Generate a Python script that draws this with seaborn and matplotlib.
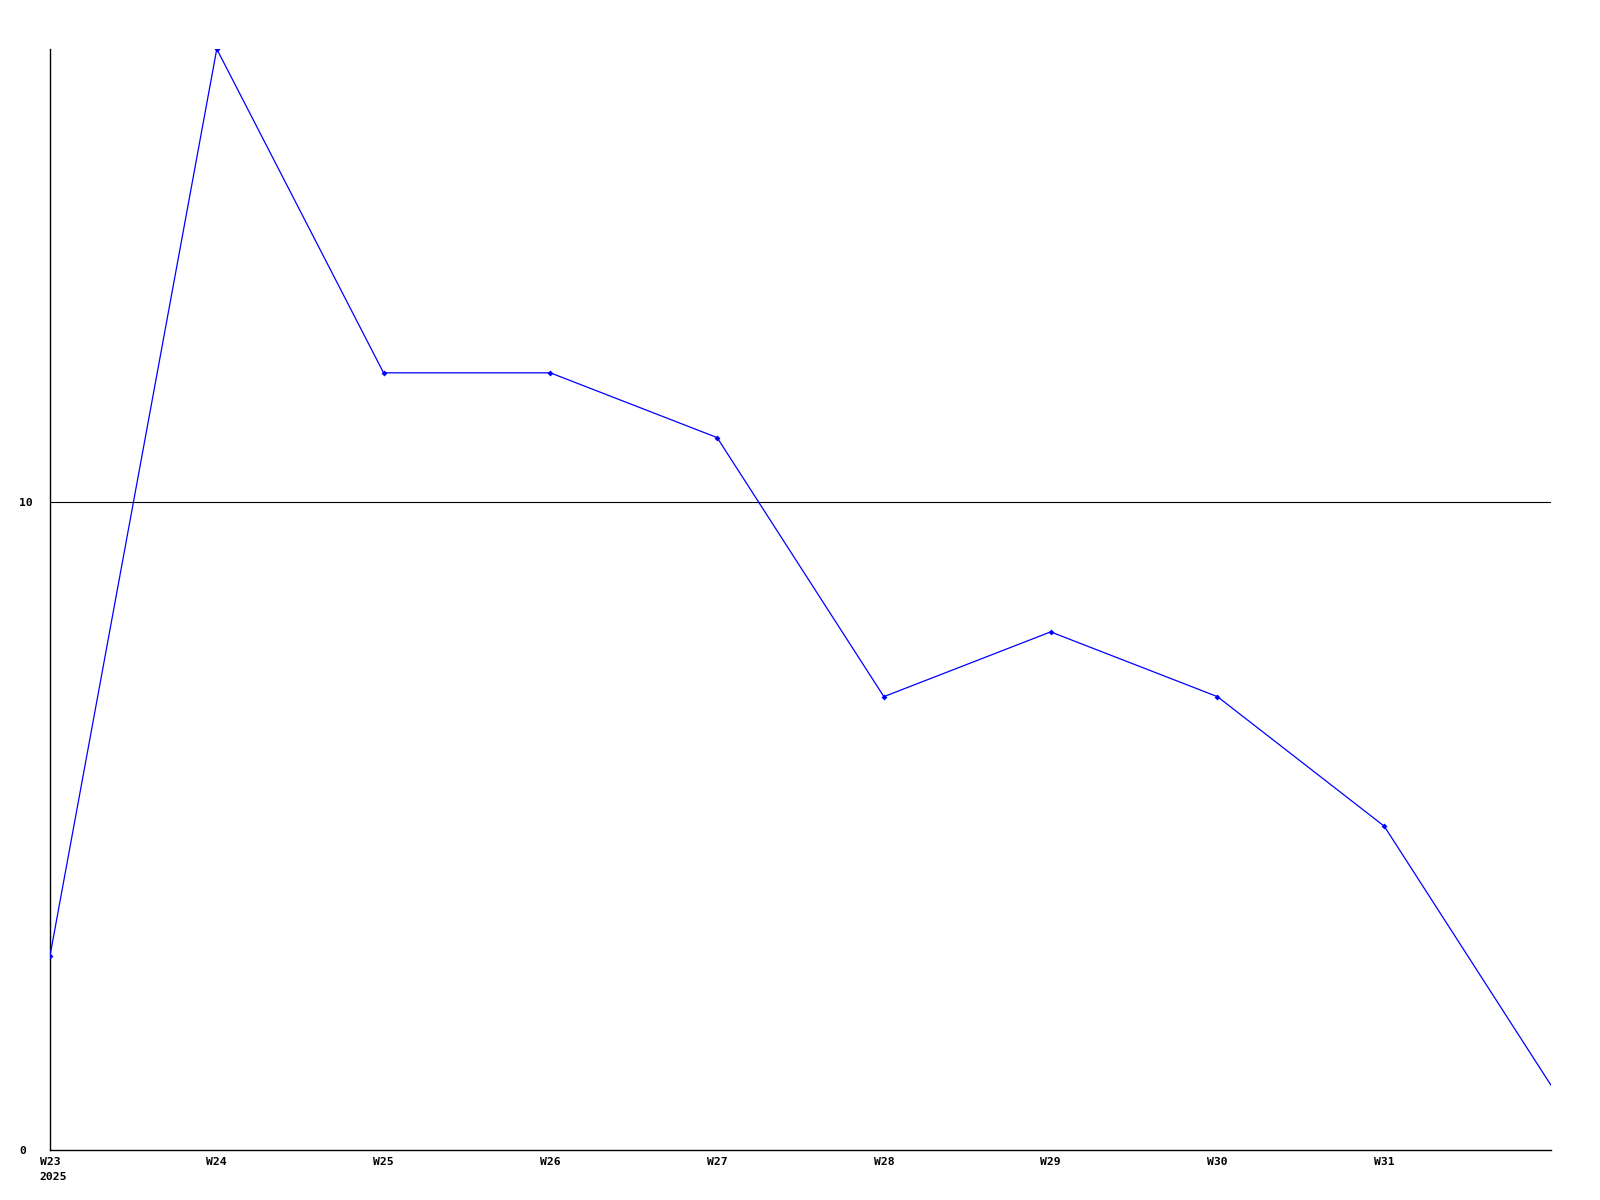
import matplotlib
matplotlib.use("Agg")
import matplotlib.pyplot as plt
import matplotlib.transforms as mtransforms
import seaborn as sns
import pandas as pd

weeks = ["W23", "W24", "W25", "W26", "W27", "W28", "W29", "W30", "W31", "W32"]
values = [3, 17, 12, 12, 11, 7, 8, 7, 5, 1]
tick_labels = ["W23", "W24", "W25", "W26", "W27", "W28", "W29", "W30", "W31"]
year_label = "2025"
y_ticks = [0, 10]

df = pd.DataFrame({"idx": range(len(weeks)), "week": weeks, "value": values})

sns.set_style("white")
plt.rcParams["font.family"] = ["DejaVu Sans Mono", "DejaVu Sans"]
plt.rcParams["text.color"] = "black"
plt.rcParams["xtick.color"] = "black"
plt.rcParams["ytick.color"] = "black"

FS = 8.2

fig = plt.figure(figsize=(16, 12), dpi=100)
ax = fig.add_axes([50 / 1600, 1 - 1150 / 1200, (1551 - 50) / 1600, (1150 - 49) / 1200])

ax.axhline(10, color="black", lw=0.8, zorder=1)
sns.lineplot(data=df, x="idx", y="value", ax=ax, color="#0000ff", lw=0.9,
             marker="D", markersize=3, markeredgewidth=0, zorder=3,
             markevery=list(range(len(weeks) - 1)))

ax.set_xlim(0, len(weeks) - 1)
ax.set_ylim(0, 17)
ax.set_xlabel("")
ax.set_ylabel("")

ax.set_xticks(range(len(tick_labels)))
ax.set_xticklabels(tick_labels, fontsize=FS, fontweight="bold", color="black")
ax.set_yticks(y_ticks)
ax.set_yticklabels([str(v) for v in y_ticks], fontsize=FS, fontweight="bold", color="black")
ax.tick_params(axis="x", length=0, pad=4.8)
ax.tick_params(axis="y", length=0, pad=22.0)
for lab in ax.get_yticklabels():
    lab.set_ha("left")

for s in ["top", "right"]:
    ax.spines[s].set_visible(False)
for s in ["left", "bottom"]:
    ax.spines[s].set_color("black")
    ax.spines[s].set_linewidth(1.0)

trans = mtransforms.offset_copy(ax.get_xaxis_transform(), fig=fig, x=-11, y=-22, units="dots")
ax.text(0, 0, year_label, transform=trans, ha="left", va="top",
        fontsize=FS, fontweight="bold", color="black")

fig.savefig("out.png", dpi=100)
